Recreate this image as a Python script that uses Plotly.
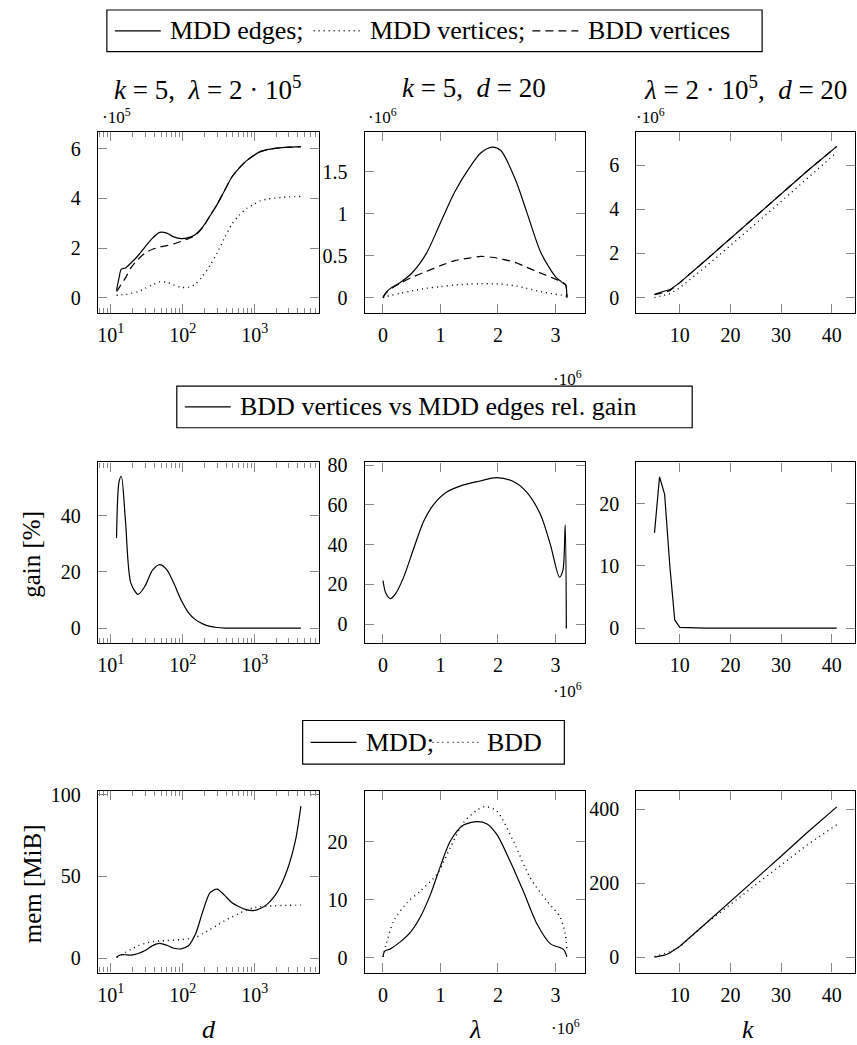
import plotly.graph_objects as go

# ---------------- data ----------------
# column 1: vs d (k=5, lambda=2e5)
d_grid = [12, 13, 14, 16, 19, 24, 30, 38, 48, 60, 75, 95, 120, 150, 190, 240, 300,
          380, 480, 600, 760, 960, 1200, 1500, 1900, 2400, 3000, 3700, 4400]
mdd_edges_d_e5 = [0.3, 0.8, 1.15, 1.2, 1.4, 1.7, 2.05, 2.4, 2.63, 2.6, 2.45, 2.38, 2.42, 2.55,
                  2.85, 3.3, 3.75, 4.3, 4.85, 5.2, 5.5, 5.72, 5.88, 5.96, 6.01, 6.04, 6.06, 6.07, 6.08]
mdd_vert_d_e5 = [0.1, 0.11, 0.12, 0.13, 0.17, 0.25, 0.38, 0.52, 0.64, 0.62, 0.52, 0.42, 0.42, 0.55,
                 0.88, 1.3, 1.8, 2.4, 2.95, 3.3, 3.58, 3.75, 3.9, 3.97, 4.01, 4.04, 4.06, 4.07, 4.08]
bdd_vert_d_e5 = [0.25, 0.4, 0.55, 0.8, 1.2, 1.55, 1.8, 1.95, 2.04, 2.1, 2.17, 2.27, 2.38, 2.52,
                 2.83, 3.3, 3.75, 4.3, 4.85, 5.2, 5.5, 5.72, 5.88, 5.96, 6.01, 6.04, 6.06, 6.07, 6.08]
gain_d = [32, 52, 54, 38, 16, 12, 15, 20.6, 22.6, 20.8, 16, 10, 5.5, 3, 1.5, 0.6, 0.2,
          0, 0, 0, 0, 0, 0, 0, 0, 0, 0, 0, 0]
mem_mdd_d = [0.4, 1.5, 2.0, 2.0, 1.8, 2.8, 4.6, 7.6, 9.0, 7.8, 6.0, 5.6, 7.5, 14.5, 28.5, 40.0, 42.2,
             38.5, 34, 31.5, 29.6, 29.0, 30.3, 33, 38, 46, 57, 72, 93]
mem_bdd_d = [0.4, 1.3, 2.0, 3.5, 5.2, 7.6, 9.0, 10.0, 10.5, 10.7, 10.9, 11.3, 11.8, 12.6, 15, 17.5, 20,
             22.8, 25, 27.2, 29.3, 30.8, 31.4, 31.8, 32, 32.2, 32.3, 32.4, 32.4]

# column 2: vs lambda (x 1e6), k=5, d=20
lam_grid = [0, 0.05, 0.13, 0.3, 0.5, 0.75, 1.0, 1.25, 1.5, 1.7, 1.9, 2.05, 2.3, 2.5, 2.75,
            3.0, 3.1, 3.15, 3.18, 3.2]
mdd_edges_lam_e6 = [0, 0.06, 0.11, 0.18, 0.29, 0.52, 0.89, 1.26, 1.54, 1.72, 1.79, 1.75, 1.41,
                    1.02, 0.53, 0.25, 0.19, 0.165, 0.15, 0.0]
bdd_vert_lam_e6 = [0, 0.05, 0.1, 0.17, 0.24, 0.31, 0.38, 0.44, 0.47, 0.49, 0.48, 0.46, 0.42,
                   0.36, 0.29, 0.22, 0.19, 0.17, 0.15, 0.0]
mdd_vert_lam_e6 = [0, 0.01, 0.025, 0.05, 0.08, 0.11, 0.13, 0.15, 0.16, 0.165, 0.165, 0.16, 0.14,
                   0.11, 0.07, 0.04, 0.03, 0.025, 0.02, 0.01]
lam_gain = [0, 0.05, 0.13, 0.22, 0.36, 0.54, 0.71, 0.88, 1.11, 1.4, 1.69, 1.98, 2.27, 2.5, 2.74,
            2.91, 3.07, 3.13, 3.17, 3.19]
gain_lam = [21.9, 15.5, 12.8, 15.3, 23.6, 38.5, 51.8, 60.1, 66.4, 70, 72, 73.7, 71.7, 66.4, 55.1,
            40.2, 23.6, 27, 50, -2.2]
lam_mem_mdd = [0, 0.03, 0.13, 0.3, 0.48, 0.65, 0.83, 1.0, 1.17, 1.4, 1.64, 1.81, 1.98, 2.21, 2.44,
               2.68, 2.91, 3.14, 3.2]
mem_mdd_lam = [0.1, 1.1, 1.5, 2.7, 4.4, 7.0, 11, 15.8, 20.1, 22.9, 23.5, 23.1, 21.3, 16.7, 11.5,
               5.8, 2.4, 1.4, 0.1]
lam_mem_bdd = [0, 0.05, 0.19, 0.42, 0.65, 0.94, 1.17, 1.4, 1.64, 1.78, 1.98, 2.27, 2.56, 2.85,
               3.08, 3.17, 3.2]
mem_bdd_lam = [0.1, 2.1, 6.4, 9.5, 11.5, 14.4, 19, 23.3, 25.5, 26.1, 25.3, 20.1, 13.8, 9.8, 7.0,
               4.1, 1.3]

# column 3: vs k, lambda=2e5, d=20
k_grid = [5, 6, 7, 8, 9, 10, 15, 20, 25, 30, 35, 41]
mdd_edges_k_e6 = [0.15, 0.24, 0.3, 0.35, 0.5, 0.68, 1.67, 2.67, 3.67, 4.68, 5.7, 6.85]
bdd_vert_k_e6 = [0.13, 0.18, 0.235, 0.315, 0.49, 0.68, 1.67, 2.67, 3.67, 4.68, 5.7, 6.85]
mdd_vert_k_e6 = [0.0, 0.05, 0.1, 0.17, 0.3, 0.45, 1.38, 2.35, 3.35, 4.35, 5.35, 6.58]
gain_k = [15.3, 24.3, 21.5, 10.3, 1.3, 0.1, 0, 0, 0, 0, 0, 0]
mem_mdd_k = [1, 3, 6, 12, 20, 30, 90, 150, 212, 273, 335, 406]
mem_bdd_k = [2, 6, 10, 15, 21, 29, 90, 143, 196, 250, 302, 358]

# ---------------- layout helpers ----------------
W, H = 857, 1045
FONT = "Liberation Serif"
col_px = [(97, 318), (364, 585), (636, 855)]
row_px = [(125, 307), (458, 640), (789, 972)]


def fx(x):
    return x / W


def fy(y):
    return 1 - y / H


fig = go.Figure()

SOLID = dict(color="black", width=1.2)
DOT = dict(color="black", width=1.4, dash="1px,4px")
DASH = dict(color="black", width=1.2, dash="8px,5px")


def add(i, x, y, line, shape="spline"):
    ln = dict(**line, shape=shape)
    if shape == "spline":
        ln["smoothing"] = 0.8
    fig.add_trace(go.Scatter(x=x, y=y, mode="lines", line=ln, showlegend=False,
                             xaxis=f"x{i}", yaxis=f"y{i}", hoverinfo="skip"))


# row 1
add(1, d_grid, mdd_edges_d_e5, SOLID)
add(1, d_grid, mdd_vert_d_e5, DOT)
add(1, d_grid, bdd_vert_d_e5, DASH)
add(2, lam_grid, mdd_edges_lam_e6, SOLID)
add(2, lam_grid, mdd_vert_lam_e6, DOT)
add(2, lam_grid, bdd_vert_lam_e6, DASH)
add(3, k_grid, mdd_edges_k_e6, SOLID, "linear")
add(3, k_grid, mdd_vert_k_e6, DOT, "linear")
add(3, k_grid, bdd_vert_k_e6, DASH, "linear")
# row 2
add(4, d_grid, gain_d, SOLID)
add(5, lam_gain, gain_lam, SOLID)
add(6, k_grid, gain_k, SOLID, "linear")
# row 3
add(7, d_grid, mem_mdd_d, SOLID)
add(7, d_grid, mem_bdd_d, DOT)
add(8, lam_mem_mdd, mem_mdd_lam, SOLID)
add(8, lam_mem_bdd, mem_bdd_lam, DOT)
add(9, k_grid, mem_mdd_k, SOLID, "linear")
add(9, k_grid, mem_bdd_k, DOT, "linear")

TICKC = "#888"


def common():
    return dict(showline=True, linecolor="black", linewidth=1.2, mirror="allticks",
                ticks="inside", ticklen=9, tickcolor=TICKC, tickwidth=1,
                showgrid=False, zeroline=False,
                tickfont=dict(family=FONT, size=20, color="black"))


log_minor = [m * 10 ** e for e in range(0, 4) for m in range(2, 10)]

x_ranges = [[0.82, 3.89], [-0.32, 3.52], [1.4, 44.6]]
y_ranges = [[-0.6, 6.67], [-0.179, 1.97], [-0.68, 7.5],
            [-5.35, 58.9], [-9.6, 81.3], [-2.42, 26.6],
            [-8.9, 102.3], [-2.6, 28.8], [-40.8, 449]]
y_ticks = [[0, 2, 4, 6], [0, 0.5, 1, 1.5], [0, 2, 4, 6],
           [0, 20, 40], [0, 20, 40, 60, 80], [0, 10, 20],
           [0, 50, 100], [0, 10, 20], [0, 200, 400]]

layout = {}
for r in range(3):
    for c in range(3):
        i = 3 * r + c + 1
        xa = common()
        xa.update(domain=[fx(col_px[c][0]), fx(col_px[c][1])], anchor=f"y{i}",
                  range=x_ranges[c], ticklabelstandoff=4)
        if c == 0:
            xa.update(type="log", tickvals=[10, 100, 1000],
                      ticktext=["10<sup>1</sup>", "10<sup>2</sup>", "10<sup>3</sup>"],
                      minor=dict(tickvals=log_minor, ticks="inside", ticklen=5,
                                 tickcolor=TICKC, showgrid=False))
        elif c == 1:
            xa.update(tickvals=[0, 1, 2, 3])
        else:
            xa.update(tickvals=[10, 20, 30, 40])
        ya = common()
        ya.update(domain=[fy(row_px[r][1]), fy(row_px[r][0])], anchor=f"x{i}",
                  range=y_ranges[i - 1], tickvals=y_ticks[i - 1], ticklabelstandoff=12)
        layout[f"xaxis{i}"] = xa
        layout[f"yaxis{i}"] = ya

fig.update_layout(**layout)
fig.update_layout(width=W, height=H, margin=dict(l=0, r=0, t=0, b=0),
                  paper_bgcolor="white", plot_bgcolor="white", showlegend=False)

ann = []
shapes = []


def text(x, y, s, size=20, angle=0, xanchor="center"):
    ann.append(dict(x=fx(x), y=fy(y), xref="paper", yref="paper", text=s, showarrow=False,
                    font=dict(family=FONT, size=size, color="black"), textangle=angle,
                    xanchor=xanchor, yanchor="middle"))


def box(x0, y0, x1, y1):
    shapes.append(dict(type="rect", xref="paper", yref="paper", x0=fx(x0), x1=fx(x1),
                       y0=fy(y0), y1=fy(y1), line=dict(color="black", width=1.2),
                       fillcolor="white", layer="above"))


def sample(x0, y, style):
    shapes.append(dict(type="line", xref="paper", yref="paper", x0=fx(x0), x1=fx(x0 + 46),
                       y0=fy(y), y1=fy(y), line=style, layer="above"))


LEG = 26
# legend 1
box(106, 2, 762, 44)
sample(114, 23, SOLID)
text(167, 23, "MDD edges;", LEG, xanchor="left")
sample(313, 23, DOT)
text(367, 23, "MDD vertices;", LEG, xanchor="left")
sample(532, 23, DASH)
text(586, 23, "BDD vertices", LEG, xanchor="left")
# legend 2
box(176, 381, 692, 423)
sample(184, 402, SOLID)
text(237, 402, "BDD vertices vs MDD edges rel. gain", LEG, xanchor="left")
# legend 3
box(302, 718, 564, 762)
sample(310, 740, SOLID)
text(363, 740, "MDD;", LEG, xanchor="left")
sample(432, 740, DOT)
text(485, 740, "BDD", LEG, xanchor="left")

# titles
text(207, 81, "<i>k</i> = 5,  <i>λ</i> = 2 · 10<sup>5</sup>", 27)
text(474, 81, "<i>k</i> = 5,  <i>d</i> = 20", 27)
text(745, 81, "<i>λ</i> = 2 · 10<sup>5</sup>,  <i>d</i> = 20", 27)
# y scale labels
text(116, 109, "·10<sup>5</sup>", 17)
text(382, 109, "·10<sup>6</sup>", 17)
text(650, 109, "·10<sup>6</sup>", 17)
# x scale labels (lambda)
text(567, 373, "·10<sup>6</sup>", 17)
text(567, 687, "·10<sup>6</sup>", 17)
text(565, 1027, "·10<sup>6</sup>", 17)
# axis titles
text(31, 550, "gain [%]", 25, angle=-90)
text(31, 882, "mem [MiB]", 25, angle=-90)
text(208, 1029, "<i>d</i>", 26)
text(475, 1029, "<i>λ</i>", 26)
text(748, 1029, "<i>k</i>", 26)

fig.update_layout(annotations=ann, shapes=shapes)

fig.write_html("out.html", config={"displayModeBar": False},
               post_script="document.body.style.margin='0';document.body.style.overflow='hidden';")
